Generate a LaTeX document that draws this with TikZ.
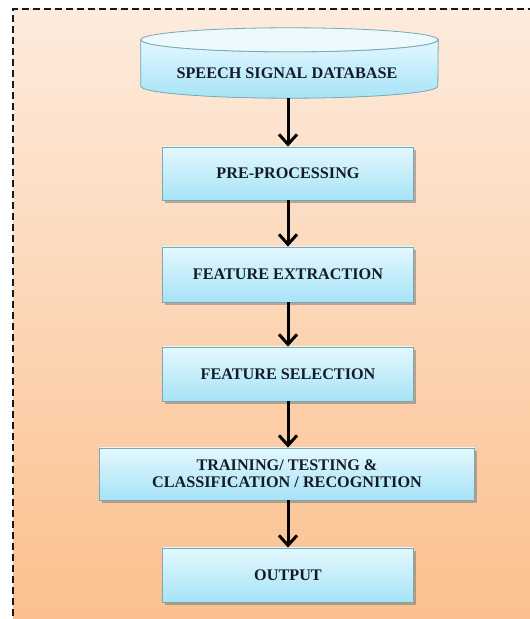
\documentclass[tikz,border=0pt]{standalone}
\usepackage{fontspec}
\setmainfont{Liberation Serif}
\usetikzlibrary{arrows.meta,shadows,calc}
\definecolor{bgtop}{HTML}{FDEBDD}
\definecolor{bgbot}{HTML}{FBBF8C}
\definecolor{boxtop}{HTML}{E4F8FE}
\definecolor{boxbot}{HTML}{A6E3F7}
\definecolor{boxline}{HTML}{78A9B6}
\definecolor{txt}{HTML}{141B28}
\begin{document}
\begin{tikzpicture}[x=1pt,y=1pt,
  stagebox/.style={rectangle, draw=boxline, line width=0.8pt,
    top color=boxtop, bottom color=boxbot,
    drop shadow={shadow xshift=2pt, shadow yshift=-3pt, opacity=0.45, fill=black!60},
    font=\fontsize{16.2}{17}\selectfont\bfseries, text=txt, align=center,
    inner sep=0pt},
  flow/.style={line width=3pt, -{Straight Barb[length=10pt,width=18pt,line width=3pt]}, black}
]
\useasboundingbox (0,0) rectangle (530,619);
% background frame
\shade[top color=bgtop, bottom color=bgbot] (13,610) rectangle (545,-15);
\draw[line width=2pt, dash pattern=on 7pt off 4pt, black!90] (545,-15) -- (13,-15) -- (13,610) -- (545,610);
% database cylinder
\node[minimum width=297pt, minimum height=70pt, inner sep=0pt] (db) at (289.5,556) {};
\fill[black!55, opacity=0.4, xshift=2pt, yshift=-3pt]
  ($(db.north west)+(0,-12pt)$) -- ($(db.south west)+(0,12pt)$)
  arc[start angle=180, end angle=360, x radius=148.5pt, y radius=12pt]
  -- ($(db.north east)+(0,-12pt)$)
  arc[start angle=0, end angle=180, x radius=148.5pt, y radius=12pt] -- cycle;
\shade[top color=boxtop, bottom color=boxbot, draw=boxline, line width=0.8pt]
  ($(db.north west)+(0,-12pt)$) -- ($(db.south west)+(0,12pt)$)
  arc[start angle=180, end angle=360, x radius=148.5pt, y radius=12pt]
  -- ($(db.north east)+(0,-12pt)$)
  arc[start angle=0, end angle=-180, x radius=148.5pt, y radius=12pt] -- cycle;
\draw[fill=boxtop!70!white, draw=boxline, line width=0.8pt]
  ($(db.north)+(0,-12pt)$) ellipse[x radius=148.5pt, y radius=12pt];
\node[font=\fontsize{16.2}{17}\selectfont\bfseries, text=txt] (dbtext) at (287,546) {SPEECH SIGNAL DATABASE};
% stages
\node[stagebox, minimum width=251pt, minimum height=53pt] (pre) at (288,445.5) {PRE-PROCESSING};
\node[stagebox, minimum width=251pt, minimum height=55pt] (fe) at (288,344.5) {FEATURE EXTRACTION};
\node[stagebox, minimum width=251pt, minimum height=54pt] (fs) at (288,245) {FEATURE SELECTION};
\node[stagebox, minimum width=375pt, minimum height=52pt] (tr) at (287,145) {TRAINING/ TESTING \&\\ CLASSIFICATION / RECOGNITION};
\node[stagebox, minimum width=251pt, minimum height=54pt] (out) at (288,44) {OUTPUT};
% arrows
\draw[flow] (db.south -| pre.north) -- (pre.north);
\draw[flow] (pre.south) -- (fe.north);
\draw[flow] (fe.south) -- (fs.north);
\draw[flow] (fs.south) -- (tr.north -| fs.south);
\draw[flow] (tr.south -| out.north) -- (out.north);
\end{tikzpicture}
\end{document}
